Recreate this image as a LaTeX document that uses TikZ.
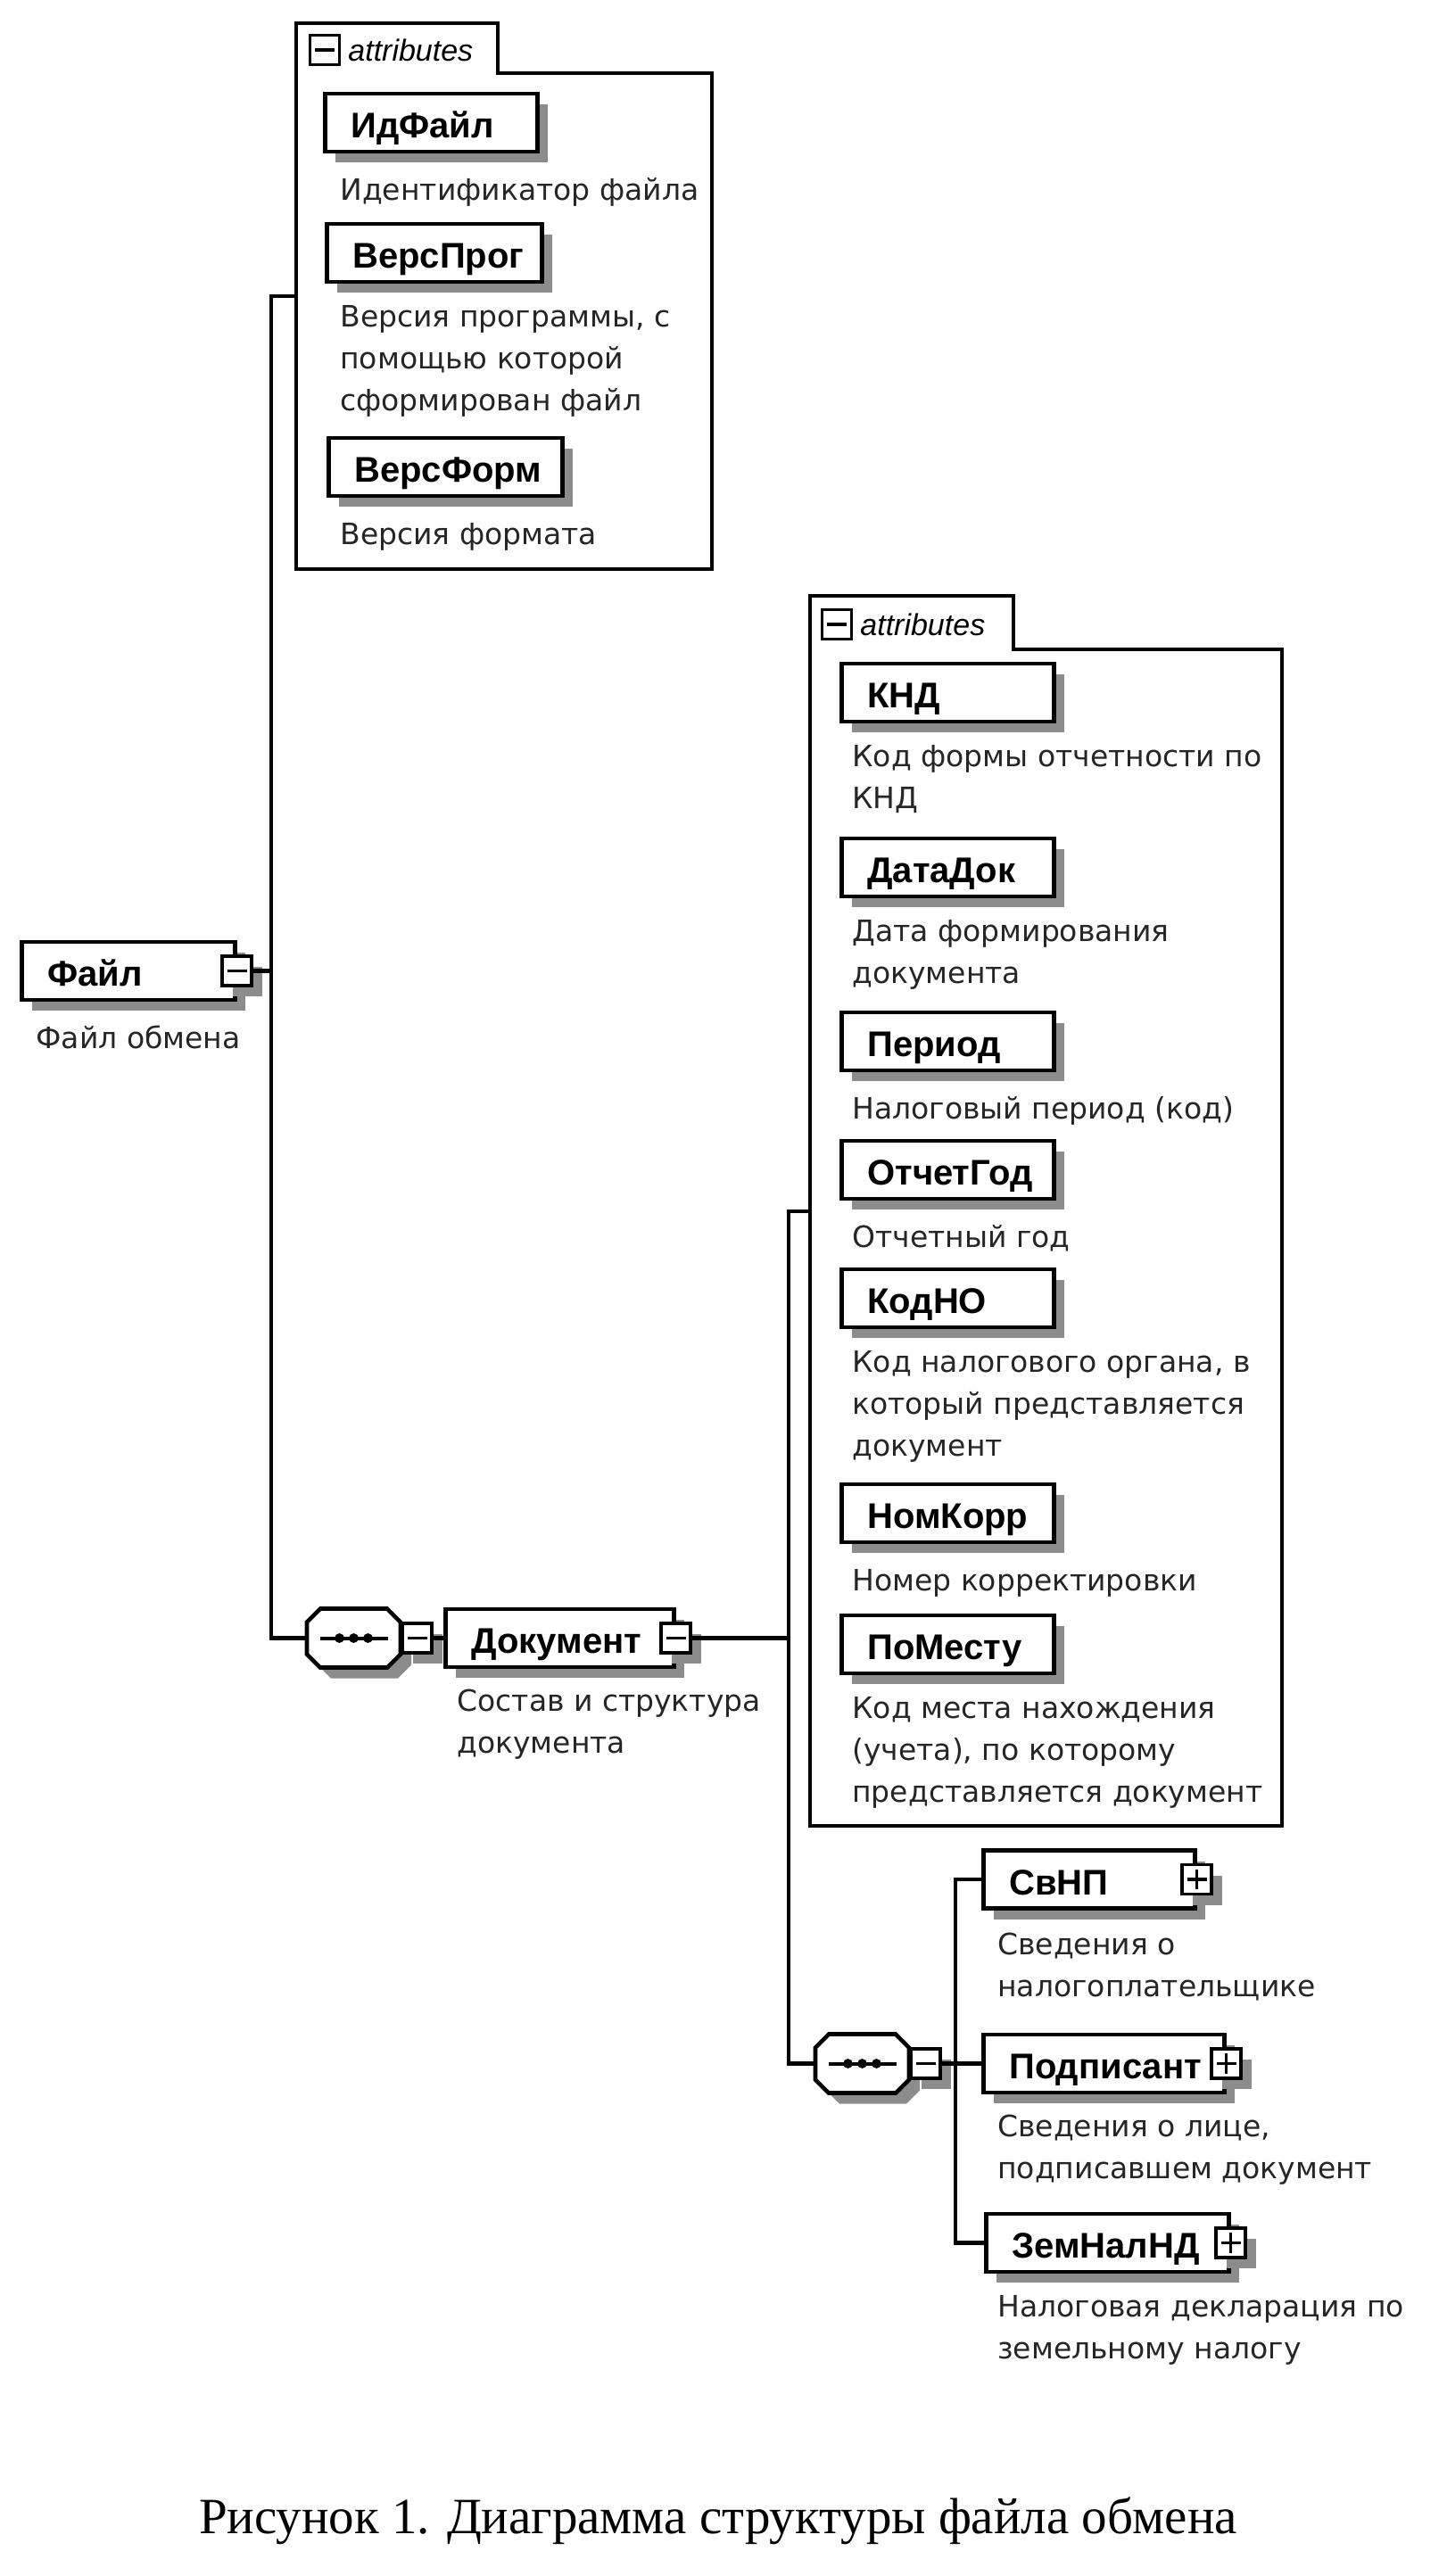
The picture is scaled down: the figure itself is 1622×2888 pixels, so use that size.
\documentclass[tikz,border=0pt]{standalone}
\usepackage{fontspec}
\setmainfont{Liberation Sans}
\newfontfamily\namefam{Liberation Sans}
\newfontfamily\descfam{DejaVu Sans}
\newfontfamily\capfam{Liberation Serif}
\usetikzlibrary{shadows}

\tikzset{
  conn/.style={line width=2.3pt, line join=miter},
  grp/.style={line width=2.1pt, line join=miter},
  shadowed/.style={drop shadow={shadow xshift=6pt, shadow yshift=-6pt, fill=black!45, opacity=1}},
  box/.style={draw, line width=2.3pt, fill=white, shadowed, inner xsep=14.5pt, inner ysep=0pt,
    minimum height=32.5pt, align=left, text height=19pt, text depth=2pt,
    font=\namefam\bfseries\fontsize{20}{24}\selectfont},
  sq/.style={draw, line width=1.8pt, fill=white, shadowed, minimum size=16.5pt, inner sep=0pt},
  sqplain/.style={draw, line width=1.6pt, fill=white, minimum size=16.5pt, inner sep=0pt},
  signline/.style={line width=1.8pt},
  desc/.style={anchor=north west, align=left, inner sep=0pt, text=black!85,
    font=\descfam\fontsize{16.5}{23.5}\selectfont,
    execute at begin node={\rule{0pt}{14pt}}},
  attrlab/.style={anchor=west, inner sep=0pt, font=\namefam\itshape\fontsize{17}{20}\selectfont},
}

\newcommand\elbox[5]{%
  \pgfmathsetmacro\boxtw{(#3-#2)/2-29}%
  \node[box, text width=\boxtw pt, anchor=west] (#1) at (#2,#4) {#5};}
\newcommand\minusat[2]{%
  \node[sq, at={(#2)}] (#1) {};
  \draw[signline] ([xshift=3.6pt]#1.west) -- ([xshift=-3.6pt]#1.east);}
\newcommand\plusat[2]{%
  \node[sq, at={(#2)}] (#1) {};
  \draw[signline] ([xshift=3.6pt]#1.west) -- ([xshift=-3.6pt]#1.east);
  \draw[signline] ([yshift=3.6pt]#1.south) -- ([yshift=-3.6pt]#1.north);}
\newcommand\seqnode[3]{%
  \fill[black!45] ({#2-37.5+12},{#3-33+12}) -- ({#2+37.5+12},{#3-33+12}) -- ({#2+52.5+12},{#3-18+12})
    -- ({#2+52.5+12},{#3+18+12}) -- ({#2+37.5+12},{#3+33+12}) -- ({#2-37.5+12},{#3+33+12})
    -- ({#2-52.5+12},{#3+18+12}) -- ({#2-52.5+12},{#3-18+12}) -- cycle;
  \draw[line width=2.3pt, fill=white] ({#2-37.5},{#3-33}) -- ({#2+37.5},{#3-33}) -- ({#2+52.5},{#3-18})
    -- ({#2+52.5},{#3+18}) -- ({#2+37.5},{#3+33}) -- ({#2-37.5},{#3+33})
    -- ({#2-52.5},{#3+18}) -- ({#2-52.5},{#3-18}) -- cycle;
  \node[inner sep=0pt, minimum width=52.5pt, minimum height=33pt] (#1) at (#2,#3) {};
  \draw[line width=2pt] ({#2-38},#3) -- ({#2+38},#3);
  \foreach \dx in {-16,0,16} \fill ({#2+\dx},#3) circle (2.7pt);}

\begin{document}
\begin{tikzpicture}[x=0.5pt,y=-0.5pt]
\fill[white] (0,0) rectangle (1622,2888);
\useasboundingbox (0,0) rectangle (1622,2888);

% attribute group 1
\draw[grp] (332,26) -- (558,26) -- (558,82) -- (798,82) -- (798,638) -- (332,638) -- cycle;
\node[sqplain] (a1m) at (364,56) {};
\draw[signline] ([xshift=3.6pt]a1m.west) -- ([xshift=-3.6pt]a1m.east);
\node[attrlab] (a1l) at (390,56) {attributes};
\elbox{idf}{362}{600}{137.5}{ИдФайл}
\elbox{vprog}{364}{605}{283.5}{ВерсПрог}
\elbox{vform}{366}{628}{523.5}{ВерсФорм}
\node[desc] (idfd) at (381,196) {Идентификатор файла};
\node[desc] (vprogd) at (381,342) {Версия программы, с\\помощью которой\\сформирован файл};
\node[desc] (vformd) at (381,582) {Версия формата};

% attribute group 2
\draw[grp] (908,668) -- (1136,668) -- (1136,728) -- (1437,728) -- (1437,2047) -- (908,2047) -- cycle;
\node[sqplain] (a2m) at (938,700) {};
\draw[signline] ([xshift=3.6pt]a2m.west) -- ([xshift=-3.6pt]a2m.east);
\node[attrlab] (a2l) at (964,700) {attributes};
\elbox{knd}{941}{1179}{776.5}{КНД}
\elbox{datadok}{941}{1179}{972.5}{ДатаДок}
\elbox{period}{941}{1179}{1167.5}{Период}
\elbox{otchgod}{941}{1179}{1311.5}{ОтчетГод}
\elbox{kodno}{941}{1179}{1455.5}{КодНО}
\elbox{nomkorr}{941}{1179}{1696.5}{НомКорр}
\elbox{pomestu}{941}{1179}{1843.5}{ПоМесту}
\node[desc] (kndd) at (955,835) {Код формы отчетности по\\КНД};
\node[desc] (datadokd) at (955,1031) {Дата формирования\\документа};
\node[desc] (periodd) at (955,1226) {Налоговый период (код)};
\node[desc] (otchgodd) at (955,1370) {Отчетный год};
\node[desc] (kodnod) at (955,1514) {Код налогового органа, в\\который представляется\\документ};
\node[desc] (nomkorrd) at (955,1755) {Номер корректировки};
\node[desc] (pomestud) at (955,1902) {Код места нахождения\\(учета), по которому\\представляется документ};

% elements
\elbox{file}{22}{261}{1088.5}{Файл}
\minusat{filem}{file.east}
\node[desc] (filed) at (40,1147) {Файл обмена};

\seqnode{seq1}{396.5}{1836.5}
\node[sq, anchor=west] (seq1m) at (seq1.east) {};
\draw[signline] ([xshift=3.6pt]seq1m.west) -- ([xshift=-3.6pt]seq1m.east);

\elbox{doc}{497}{753}{1836.5}{Документ}
\minusat{docm}{doc.east}
\node[desc] (docd) at (512,1894) {Состав и структура\\документа};

\seqnode{seq2}{966.5}{2313.5}
\node[sq, anchor=west] (seq2m) at (seq2.east) {};
\draw[signline] ([xshift=3.6pt]seq2m.west) -- ([xshift=-3.6pt]seq2m.east);

\elbox{svnp}{1100}{1337}{2107}{СвНП}
\plusat{svnpp}{svnp.east}
\node[desc] (svnpd) at (1118,2167) {Сведения о\\налогоплательщике};

\elbox{podp}{1100}{1370}{2313.5}{Подписант}
\plusat{podpp}{podp.east}
\node[desc] (podpd) at (1118,2371) {Сведения о лице,\\подписавшем документ};

\elbox{zem}{1103}{1375}{2514.5}{ЗемНалНД}
\plusat{zemp}{zem.east}
\node[desc] (zemd) at (1118,2573) {Налоговая декларация по\\земельному налогу};

% connectors
\coordinate (a1in) at (332,332);
\coordinate (t1) at (304,332);
\draw[conn] (a1in) -- (t1) -- (t1 |- seq1.west) -- (seq1.west);
\draw[conn] (filem.east) -- (filem.east -| t1);
\draw[conn] (seq1m.east) -- (doc.west);

\coordinate (a2in) at (908,1358);
\coordinate (t2) at (884,1358);
\draw[conn] (a2in) -- (t2) -- (t2 |- seq2.west) -- (seq2.west);
\draw[conn] (docm.east) -- (docm.east -| t2);

\coordinate (t3) at (1071,2107);
\draw[conn] (svnp.west) -- (t3) -- (t3 |- zem.west) -- (zem.west);
\draw[conn] (seq2m.east) -- (podp.west);

% caption
\node[anchor=base, inner sep=0pt, font=\capfam\fontsize{28.5}{34}\selectfont] (cap) at (805,2840)
  {Рисунок 1. Диаграмма структуры файла обмена};
\end{tikzpicture}
\end{document}
